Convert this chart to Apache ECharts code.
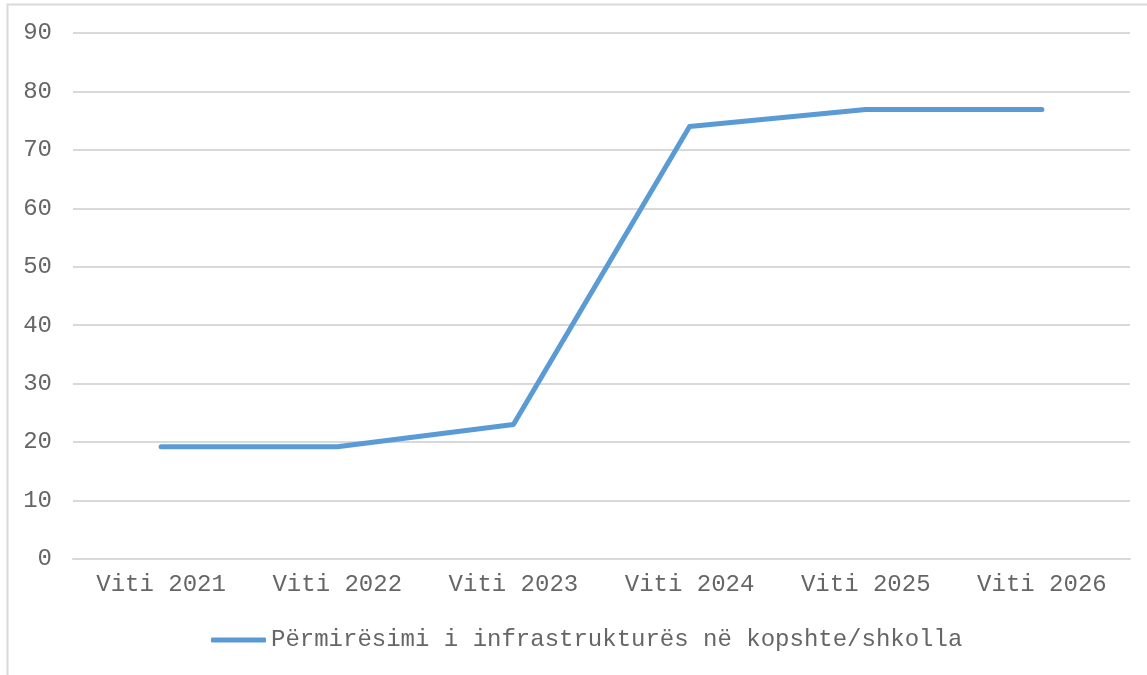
<!DOCTYPE html>
<html>
<head>
    <meta charset="utf-8">
    <title>Infrastruktura</title>
    <script src="https://cdn.jsdelivr.net/npm/echarts@6/dist/echarts.min.js"></script>
    <style>
        html, body { margin: 0; padding: 0; background: #fff; }
        #chart { width: 1147px; height: 675px; }
    </style>
</head>
<body>
    <div id="chart"></div>
    <script type="text/javascript">
        var years = ["Viti 2021", "Viti 2022", "Viti 2023", "Viti 2024", "Viti 2025", "Viti 2026"];
        var values = [19.2, 19.2, 23, 74, 76.9, 76.9];
        var seriesName = "Përmirësimi i infrastrukturës në kopshte/shkolla";

        var font = "Liberation Mono, Courier New, monospace";
        var grey = "#666666";

        var myChart = echarts.init(document.getElementById("chart"));
        var option = {
            animation: false,
            textStyle: { fontFamily: font },
            graphic: [{
                type: 'rect',
                shape: { x: 7.5, y: 4.5, width: 1160, height: 700 },
                style: { fill: 'none', stroke: '#d9d9d9', lineWidth: 2 },
                silent: true
            }],
            grid: { left: 73, right: 17, top: 33, bottom: 116 },
            legend: {
                top: 623,
                left: 206,
                icon: 'roundRect',
                itemWidth: 55,
                itemHeight: 5,
                textStyle: { fontFamily: font, fontSize: 24, color: grey },
                data: [seriesName]
            },
            xAxis: {
                type: 'category',
                data: years,
                axisLine: { lineStyle: { color: '#d9d9d9', width: 2 } },
                axisTick: { show: false },
                axisLabel: { fontFamily: font, fontSize: 24, color: grey, margin: 14 }
            },
            yAxis: {
                type: 'value',
                min: 0, max: 90, interval: 10,
                axisLine: { show: false },
                axisTick: { show: false },
                splitLine: { lineStyle: { color: '#d9d9d9', width: 2 } },
                axisLabel: { fontFamily: font, fontSize: 24, color: grey, margin: 21 }
            },
            series: [{
                name: seriesName,
                type: 'line',
                data: values,
                symbol: 'none',
                lineStyle: { color: '#5b9bd5', width: 5, cap: 'round', join: 'round' },
                itemStyle: { color: '#5b9bd5' }
            }]
        };
        myChart.setOption(option);
    </script>
</body>
</html>
